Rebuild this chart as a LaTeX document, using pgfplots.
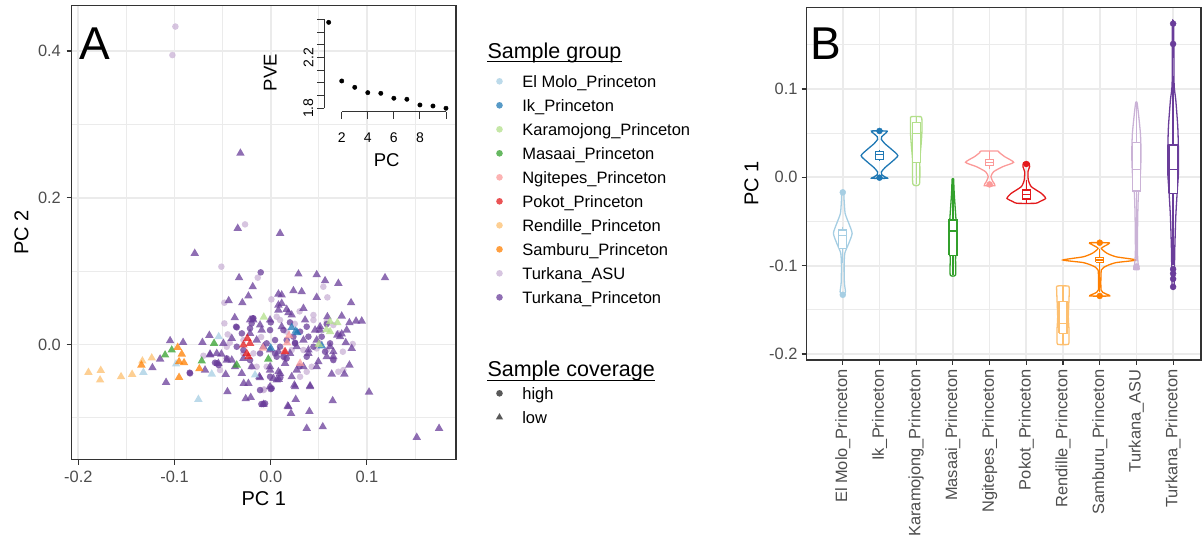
\documentclass[border=0pt]{standalone}
\usepackage{fontspec}
\setmainfont{Liberation Sans}
\usepackage{pgfplots}
\usepackage{pgfplotstable}
\pgfplotsset{compat=1.18}
\definecolor{cEM}{HTML}{A6CEE3}
\definecolor{cIk}{HTML}{1F78B4}
\definecolor{cKa}{HTML}{B2DF8A}
\definecolor{cMa}{HTML}{33A02C}
\definecolor{cNg}{HTML}{FB9A99}
\definecolor{cPo}{HTML}{E31A1C}
\definecolor{cRe}{HTML}{FDBF6F}
\definecolor{cSa}{HTML}{FF7F00}
\definecolor{cTA}{HTML}{CAB2D6}
\definecolor{cTP}{HTML}{6A3D9A}
\definecolor{gridc}{HTML}{EBEBEB}
\definecolor{framec}{HTML}{333333}
\definecolor{tickc}{HTML}{4D4D4D}
\newcommand{\fsz}[1]{\fontsize{#1}{#1}\selectfont}
\pgfplotsset{
  ggbw/.style={
    scale only axis,
    axis line style={draw=framec, line width=1.1pt},
    tick style={draw=framec, line width=1.1pt},
    major tick length=5pt, minor tick length=0pt,
    tick align=outside, tick pos=left,
    major grid style={draw=gridc, line width=1.7pt},
    minor grid style={draw=gridc, line width=0.85pt},
    every tick label/.append style={font=\fsz{16.4}, text=tickc, inner sep=0pt},
    label style={font=\fsz{20}},
  },
  pt/.style={only marks, mark=*, mark size=3.3pt, forget plot, color=#1, mark options={fill=#1, draw=#1, fill opacity=0.75, draw opacity=0}},
  tr/.style={only marks, mark=triangle*, mark size=4.9pt, forget plot, color=#1, mark options={fill=#1, draw=#1, fill opacity=0.75, draw opacity=0}},
  lgc/.style={only marks, mark=*, mark size=3.3pt, mark options={fill=#1, draw=#1, fill opacity=0.75, draw opacity=0}},
  vio/.style={draw=#1, line width=1.3pt, smooth, tension=0.35},
  bxf/.style={draw=#1, fill=white, line width=1.3pt},
  bl/.style={draw=#1, line width=1.3pt},
  ol/.style={only marks, mark=*, mark size=3pt, color=#1},
}
% violin outlines: w = offset from category centre, y = PC 1
\pgfplotstableread{
w y
0.030 -0.0170
0.036 -0.0257
0.064 -0.0408
0.164 -0.0521
0.255 -0.0634
0.164 -0.0747
0.055 -0.0860
0.036 -0.1011
0.045 -0.1200
0.073 -0.1294
0.036 -0.1328
-0.036 -0.1328
-0.073 -0.1294
-0.045 -0.1200
-0.036 -0.1011
-0.055 -0.0860
-0.164 -0.0747
-0.255 -0.0634
-0.164 -0.0521
-0.064 -0.0408
-0.036 -0.0257
-0.030 -0.0170
0.030 -0.0170
}\vA
\pgfplotstableread{
w y
0.22 0.0525
0.17 0.0500
0.06 0.0460
0.05 0.0430
0.15 0.0380
0.32 0.0320
0.50 0.0245
0.32 0.0170
0.15 0.0110
0.05 0.0060
0.06 0.0030
0.17 0.0000
0.22 -0.0011
-0.22 -0.0011
-0.17 0.0000
-0.06 0.0030
-0.05 0.0060
-0.15 0.0110
-0.32 0.0170
-0.50 0.0245
-0.32 0.0320
-0.15 0.0380
-0.05 0.0430
-0.06 0.0460
-0.17 0.0500
-0.22 0.0525
0.22 0.0525
}\vB
\pgfplotstableread{
w y
0.130 0.0687
0.155 0.0660
0.155 0.0500
0.130 0.0350
0.100 0.0200
0.090 -0.0075
-0.090 -0.0075
-0.100 0.0200
-0.130 0.0350
-0.155 0.0500
-0.155 0.0660
-0.130 0.0687
0.130 0.0687
}\vC
\pgfplotstableread{
w y
0.020 -0.0019
0.036 -0.0180
0.073 -0.0408
0.100 -0.0596
0.082 -0.0785
0.073 -0.0936
0.073 -0.1106
-0.073 -0.1106
-0.073 -0.0936
-0.082 -0.0785
-0.100 -0.0596
-0.073 -0.0408
-0.036 -0.0180
-0.020 -0.0019
0.020 -0.0019
}\vD
\pgfplotstableread{
w y
0.230 0.0298
0.270 0.0279
0.410 0.0234
0.655 0.0170
0.360 0.0121
0.110 0.0064
0.036 0.0008
0.090 -0.0049
0.145 -0.0094
-0.145 -0.0094
-0.090 -0.0049
-0.036 0.0008
-0.110 0.0064
-0.360 0.0121
-0.655 0.0170
-0.410 0.0234
-0.270 0.0279
-0.230 0.0298
0.230 0.0298
}\vE
\pgfplotstableread{
w y
0.073 0.0166
0.091 0.0121
0.045 0.0064
0.055 -0.0030
0.136 -0.0106
0.409 -0.0181
0.527 -0.0238
0.364 -0.0275
0.255 -0.0294
-0.255 -0.0294
-0.364 -0.0275
-0.527 -0.0238
-0.409 -0.0181
-0.136 -0.0106
-0.055 -0.0030
-0.045 0.0064
-0.091 0.0121
-0.073 0.0166
0.073 0.0166
}\vF
\pgfplotstableread{
w y
0.155 -0.1230
0.173 -0.1275
0.145 -0.1577
0.164 -0.1728
0.164 -0.1842
0.145 -0.1891
-0.145 -0.1891
-0.164 -0.1842
-0.164 -0.1728
-0.145 -0.1577
-0.173 -0.1275
-0.155 -0.1230
0.155 -0.1230
}\vG
\pgfplotstableread{
w y
0.273 -0.0740
0.227 -0.0758
0.045 -0.0804
0.200 -0.0860
0.450 -0.0900
1.000 -0.0936
0.450 -0.0965
0.200 -0.1000
0.045 -0.1049
0.036 -0.1275
0.136 -0.1313
0.273 -0.1343
-0.273 -0.1343
-0.136 -0.1313
-0.036 -0.1275
-0.045 -0.1049
-0.200 -0.1000
-0.450 -0.0965
-1.000 -0.0936
-0.450 -0.0900
-0.200 -0.0860
-0.045 -0.0804
-0.227 -0.0758
-0.273 -0.0740
0.273 -0.0740
}\vH
\pgfplotstableread{
w y
0.018 0.0849
0.055 0.0725
0.109 0.0498
0.127 0.0272
0.109 0.0045
0.055 -0.0181
0.036 -0.0445
0.027 -0.0823
0.045 -0.0974
0.073 -0.1042
-0.073 -0.1042
-0.045 -0.0974
-0.027 -0.0823
-0.036 -0.0445
-0.055 -0.0181
-0.109 0.0045
-0.127 0.0272
-0.109 0.0498
-0.055 0.0725
-0.018 0.0849
0.018 0.0849
}\vI
\pgfplotstableread{
w y
0.018 0.1751
0.027 0.1064
0.073 0.0875
0.127 0.0574
0.145 0.0309
0.145 0.0045
0.109 -0.0181
0.073 -0.0445
0.045 -0.0823
0.027 -0.1238
-0.027 -0.1238
-0.045 -0.0823
-0.073 -0.0445
-0.109 -0.0181
-0.145 0.0045
-0.145 0.0309
-0.127 0.0574
-0.073 0.0875
-0.027 0.1064
-0.018 0.1751
0.018 0.1751
}\vJ
\begin{document}
\begin{tikzpicture}
\path[use as bounding box] (0pt,0pt) rectangle (1203pt,540pt);
% ---------------- Panel A ----------------
\begin{axis}[ggbw, at={(71.7pt,80.3pt)}, anchor=south west,
  width=384.3pt, height=454.2pt,
  xmin=-0.2069, xmax=0.1926, ymin=-0.1572, ymax=0.4620,
  xtick={-0.2,-0.1,0,0.1}, xticklabels={-0.2,-0.1,0.0,0.1},
  ytick={0,0.2,0.4}, yticklabels={0.0,0.2,0.4},
  minor xtick={-0.15,-0.05,0.05,0.15}, minor ytick={-0.1,0.1,0.3},
  xmajorgrids, ymajorgrids, xminorgrids, yminorgrids,
  xticklabel style={anchor=base, yshift=-17.8pt},
  yticklabel style={anchor=east, xshift=-5.7pt},
  xlabel={PC 1}, ylabel={PC 2},
  xlabel style={at={(axis description cs:0.5,-0.1019)}, anchor=base},
  ylabel style={at={(axis description cs:-0.1129,0.5)}, anchor=base},
  legend image code/.code={\draw[#1] plot coordinates {(0pt,0pt)};},
  legend cell align=left,
  legend style={at={(axis description cs:1.1037,0.8507)}, anchor=north west,
    draw=none, fill=none, inner sep=0pt, outer sep=0pt,
    font=\fsz{16.5}, row sep=8pt, column sep=19.2pt,
    nodes={inner sep=0pt, text height=14pt, text depth=2pt}},
]
% Turkana_ASU (high)
\addplot[pt=cTA] coordinates {(-0.0991,0.4333) (-0.1022,0.3944) (-0.0267,0.1636) (-0.0513,0.1059) (-0.0135,0.0909) (0.0007,0.0614) (-0.0482,0.0568) (-0.0482,0.0286) (-0.0447,0.0136) (-0.0426,0.0023) (-0.0700,-0.0155) (-0.0069,-0.0614) (-0.0284,-0.0123) (-0.0198,-0.0305) (0.0547,0.0786) (0.0589,0.0641) (0.0444,0.0400) (0.0651,0.0264) (0.0852,0.0005) (0.0755,-0.0350) (0.0703,-0.0373) (0.0340,-0.0077) (0.0218,-0.0077) (0.0478,-0.0055) (0.0426,-0.0305) (-0.0076,-0.0623) (0.0097,0.0332) (0.0166,0.0173) (0.0062,0.0377) (0.0444,0.0332) (0.0582,0.0309) (0.0374,-0.0373) (0.0305,-0.0441) (-0.0042,-0.0305) (-0.0146,-0.0305) (-0.0007,-0.0577) (-0.0284,0.0059) (-0.0457,-0.0032) (-0.0527,-0.0350) (0.0132,-0.0123) (0.0513,0.0014) (0.0703,0.0150) (0.0582,-0.0077) (-0.0180,-0.0123) (0.0250,0.0280) (0.0150,-0.0200) (-0.0100,0.0100) (0.0500,0.0200) (0.0650,-0.0200) (0.0300,0.0450) (0.0750,-0.0100)};
% Turkana_Princeton (high)
\addplot[pt=cTP] coordinates {(-0.0104,0.0982) (-0.0360,0.0241) (-0.0842,-0.0386) (-0.0097,-0.0814) (0.0000,-0.0609) (-0.0579,-0.0250) (-0.0541,-0.0282) (-0.0198,0.0286) (-0.0215,0.0218) (-0.0187,0.0355) (0.0582,0.0277) (0.0392,0.0105) (0.0565,-0.0100) (-0.0076,-0.0814) (0.0010,-0.0600) (0.0253,0.0023) (0.0132,-0.0168) (0.0045,-0.0123) (0.0305,0.0173) (-0.0180,0.0355) (-0.0353,0.0232) (-0.0007,0.0195) (0.0132,0.0195) (0.0236,0.0105) (0.0045,0.0059) (-0.0042,0.0014) (-0.0111,-0.0123) (0.0062,-0.0168) (0.0166,-0.0191) (0.0253,0.0014) (0.0374,0.0241) (0.0444,-0.0032) (0.0530,0.0105) (0.0617,0.0014) (0.0651,-0.0214) (-0.0284,-0.0077) (-0.0215,-0.0214) (-0.0353,-0.0032) (-0.0457,-0.0191) (-0.0561,-0.0259) (-0.0839,-0.0395) (-0.0007,-0.0441) (-0.0111,-0.0623) (-0.0059,-0.0805) (0.0166,0.0059) (0.0374,-0.0168) (0.0097,-0.0032) (0.0000,0.0300) (0.0200,0.0300) (-0.0300,0.0150) (0.0300,-0.0300) (0.0100,-0.0450)};
% Turkana_Princeton (low)
\addplot[tr=cTP] coordinates {(-0.1046,0.0050) (-0.0911,0.0027) (-0.1150,-0.0200) (-0.1230,-0.0318) (-0.1088,-0.0518) (-0.0710,0.0027) (-0.0638,0.0123) (-0.0790,0.1241) (-0.0343,0.1582) (0.0097,0.1514) (-0.0315,0.2606) (-0.0329,0.0909) (-0.0187,0.0786) (-0.0232,0.0659) (-0.0295,0.0568) (-0.0437,0.0595) (-0.0374,0.0364) (-0.0468,-0.0409) (-0.0450,-0.0645) (-0.0281,-0.0532) (-0.0260,-0.0741) (-0.0208,-0.0723) (-0.0076,-0.0818) (0.0177,-0.0841) (-0.0631,-0.0132) (-0.0513,-0.0132) (-0.0405,-0.0214) (-0.0118,-0.0441) (0.0028,-0.0464) (0.0080,-0.0373) (0.0288,0.0959) (0.0478,0.0950) (0.0565,0.0868) (0.0703,0.0832) (0.1188,0.0909) (0.0236,0.0732) (0.0322,0.0718) (0.0114,0.0673) (0.0478,0.0641) (0.0835,0.0568) (0.0340,0.0491) (0.0080,0.0536) (0.0166,0.0477) (0.0738,0.0386) (0.0589,0.0377) (0.0818,0.0295) (0.0887,0.0318) (0.0946,0.0318) (0.0693,0.0127) (0.0738,0.0141) (0.0780,0.0023) (0.0842,-0.0055) (0.0651,-0.0168) (0.0818,-0.0282) (0.0634,-0.0405) (0.0766,-0.0405) (0.0409,-0.0564) (0.0246,-0.0555) (0.1022,-0.0650) (0.0644,-0.0768) (0.0260,-0.0750) (0.0184,-0.0850) (0.0211,-0.0941) (0.0402,-0.0914) (0.0374,-0.1145) (0.0541,-0.1123) (0.1518,-0.1268) (0.1750,-0.1145) (-0.0111,-0.0455) (0.0083,-0.0477) (0.0270,-0.0350) (0.0495,-0.0236) (0.0461,0.0195) (0.0218,0.0400) (0.0357,0.0332) (0.0513,0.0241) (0.0114,0.0241) (-0.0007,0.0332) (0.0617,-0.0032) (0.0392,-0.0123) (0.0149,-0.0259) (-0.0007,-0.0305) (0.0080,0.0686) (0.0114,0.0559) (0.0080,0.0468) (0.0184,0.0432) (-0.0180,0.0332) (-0.0111,0.0264) (-0.0215,0.0150) (-0.0146,0.0059) (-0.0076,-0.0032) (-0.0007,-0.0077) (0.0080,-0.0100) (0.0201,-0.0123) (0.0270,-0.0032) (0.0340,0.0059) (0.0392,-0.0077) (0.0478,0.0059) (0.0513,0.0195) (0.0582,-0.0168) (0.0651,-0.0100) (0.0721,0.0105) (0.0790,0.0195) (-0.0284,-0.0191) (-0.0371,-0.0305) (-0.0301,-0.0395) (-0.0198,-0.0305) (-0.0007,-0.0350) (0.0097,-0.0395) (0.0218,-0.0441) (0.0253,-0.0577) (0.0409,-0.0577) (0.0478,-0.0305) (0.0340,-0.0305) (-0.0405,0.0082) (-0.0492,0.0014) (-0.0561,-0.0123) (-0.0457,-0.0214) (-0.0544,-0.0259) (-0.0631,-0.0145) (-0.0683,-0.0350) (-0.0232,-0.0532) (-0.0007,-0.0577) (0.0062,-0.0486) (-0.0215,0.0332) (-0.0094,0.0195)};
% other groups (low)
\addplot[tr=cEM] coordinates {(-0.1324,-0.0382) (-0.0984,-0.0268) (-0.0752,-0.0750) (-0.0613,-0.0405) (-0.0541,0.0105) (-0.0163,-0.0418)};
\addplot[tr=cIk] coordinates {(0.0218,0.0230) (0.0275,0.0160) (0.0530,-0.0020) (0.0000,-0.0050) (0.0260,0.0180)};
\addplot[tr=cKa] coordinates {(-0.0072,0.0372) (0.0617,0.0309) (0.0693,0.0295) (0.0617,0.0173) (0.0500,0.0000) (0.0580,0.0200)};
\addplot[tr=cMa] coordinates {(-0.1098,-0.0145) (-0.1029,-0.0077) (-0.0589,0.0014) (-0.0717,-0.0227) (-0.0353,-0.0282) (-0.0025,-0.0200)};
\addplot[tr=cNg] coordinates {(0.0305,-0.0258) (0.0170,0.0020) (0.0140,-0.0100) (-0.0080,-0.0050) (0.0190,0.0120)};
\addplot[tr=cPo] coordinates {(-0.0243,0.0082) (-0.0215,0.0014) (-0.0249,-0.0123) (-0.0232,-0.0168) (-0.0284,-0.0009) (0.0150,-0.0100)};
\addplot[tr=cRe] coordinates {(-0.1895,-0.0382) (-0.1767,-0.0355) (-0.1774,-0.0486) (-0.1556,-0.0441) (-0.1441,-0.0409) (-0.1334,-0.0227) (-0.1237,-0.0186)};
\addplot[tr=cSa] coordinates {(-0.1344,-0.0282) (-0.0967,-0.0041) (-0.0925,-0.0132) (-0.0953,-0.0236) (-0.0901,-0.0250) (-0.0953,-0.0450) (-0.0742,-0.0332)};
% legend
\addlegendimage{lgc=cEM}\addlegendentry{El Molo\_Princeton}
\addlegendimage{lgc=cIk}\addlegendentry{Ik\_Princeton}
\addlegendimage{lgc=cKa}\addlegendentry{Karamojong\_Princeton}
\addlegendimage{lgc=cMa}\addlegendentry{Masaai\_Princeton}
\addlegendimage{lgc=cNg}\addlegendentry{Ngitepes\_Princeton}
\addlegendimage{lgc=cPo}\addlegendentry{Pokot\_Princeton}
\addlegendimage{lgc=cRe}\addlegendentry{Rendille\_Princeton}
\addlegendimage{lgc=cSa}\addlegendentry{Samburu\_Princeton}
\addlegendimage{lgc=cTA}\addlegendentry{Turkana\_ASU}
\addlegendimage{lgc=cTP}\addlegendentry{Turkana\_Princeton}
\addlegendimage{empty legend}\addlegendentry{}
\addlegendimage{empty legend}\addlegendentry{}
\addlegendimage{empty legend}\addlegendentry{}
\addlegendimage{only marks, mark=*, mark size=3.3pt, mark options={fill=black, draw=black, fill opacity=0.65, draw opacity=0}}\addlegendentry{high}
\addlegendimage{only marks, mark=triangle*, mark size=4.2pt, mark options={fill=black, draw=black, fill opacity=0.65, draw opacity=0}}\addlegendentry{low}
\end{axis}
% ---------------- Inset ----------------
\begin{axis}[at={(324pt,428.3pt)}, anchor=south west, scale only axis,
  width=125.9pt, height=94.8pt, clip=false,
  xmin=0.64, xmax=10.3, ymin=1.773, ymax=2.52,
  axis lines*=left, axis line style={draw=none},
  tick align=outside, major tick length=7pt,
  tick style={draw=framec, line width=0.9pt},
  xtick={2,4,6,8,10}, xticklabels={2,4,6,8,},
  ytick={1.8,1.9,2.0,2.1,2.2,2.3,2.4,2.5}, yticklabels={1.8,,,,2.2,,,},
  every tick label/.append style={font=\fsz{14}, inner sep=0pt},
  xticklabel style={anchor=base, yshift=-23.5pt},
  yticklabel style={anchor=south, xshift=-3.5pt, rotate=90},
  xlabel={PC}, ylabel={PVE},
  label style={font=\fsz{18.5}},
  xlabel style={at={(axis description cs:0.498,-0.573)}, anchor=base},
  ylabel style={at={(axis description cs:-0.376,0.413)}, anchor=base},
]
\draw[framec, line width=0.9pt] (axis cs:0.64,1.8) -- (axis cs:0.64,2.5);
\draw[framec, line width=0.9pt] (axis cs:2,1.773) -- (axis cs:10,1.773);
\addplot[only marks, mark=*, mark size=2.2pt, black] coordinates {(1,2.477) (2,2.015) (3,1.965) (4,1.923) (5,1.918) (6,1.879) (7,1.871) (8,1.826) (9,1.818) (10,1.800)};
\end{axis}
% ---------------- Panel B ----------------
\begin{axis}[ggbw, at={(806.7pt,180pt)}, anchor=south west,
  width=394.3pt, height=352.7pt,
  xmin=0.017, xmax=10.76, ymin=-0.2068, ymax=0.1925,
  xtick={1,2,3,4,5,6,7,8,9,10},
  xticklabels={El Molo\_Princeton,Ik\_Princeton,Karamojong\_Princeton,Masaai\_Princeton,Ngitepes\_Princeton,Pokot\_Princeton,Rendille\_Princeton,Samburu\_Princeton,Turkana\_ASU,Turkana\_Princeton},
  ytick={-0.2,-0.1,0,0.1}, yticklabels={-0.2,-0.1,0.0,0.1},
  minor ytick={-0.15,-0.05,0.05,0.15},
  xmajorgrids, ymajorgrids, yminorgrids,
  xticklabel style={yshift=-4.5pt, rotate=90, anchor=east},
  yticklabel style={anchor=east, xshift=-4pt},
  ylabel={PC 1},
  ylabel style={at={(axis description cs:-0.1227,0.5)}, anchor=base},
]
\addplot[vio=cEM] table[x expr=\thisrow{w}+1, y=y] {\vA};
\addplot[vio=cIk] table[x expr=\thisrow{w}+2, y=y] {\vB};
\addplot[vio=cKa] table[x expr=\thisrow{w}+3, y=y] {\vC};
\addplot[vio=cMa] table[x expr=\thisrow{w}+4, y=y] {\vD};
\addplot[vio=cNg] table[x expr=\thisrow{w}+5, y=y] {\vE};
\addplot[vio=cPo] table[x expr=\thisrow{w}+6, y=y] {\vF};
\addplot[vio=cRe] table[x expr=\thisrow{w}+7, y=y] {\vG};
\addplot[vio=cSa] table[x expr=\thisrow{w}+8, y=y] {\vH};
\addplot[vio=cTA] table[x expr=\thisrow{w}+9, y=y] {\vI};
\addplot[vio=cTP] table[x expr=\thisrow{w}+10, y=y] {\vJ};
% box plots: whisker, box (quartiles), median
\addplot[bl=cEM] coordinates {(1,-0.0558) (1,-0.0974)};
\addplot[bxf=cEM] coordinates {(0.89,-0.0804) (1.11,-0.0804) (1.11,-0.0596) (0.89,-0.0596) (0.89,-0.0804)};
\addplot[bl=cEM] coordinates {(0.89,-0.0660) (1.11,-0.0660)};
\addplot[bl=cIk] coordinates {(2,0.0310) (2,0.0190)};
\addplot[bxf=cIk] coordinates {(1.89,0.0204) (2.11,0.0204) (2.11,0.0291) (1.89,0.0291) (1.89,0.0204)};
\addplot[bl=cIk] coordinates {(1.89,0.0260) (2.11,0.0260)};
\addplot[bl=cKa] coordinates {(3,0.0687) (3,-0.0075)};
\addplot[bxf=cKa] coordinates {(2.89,0.0166) (3.11,0.0166) (3.11,0.0619) (2.89,0.0619) (2.89,0.0166)};
\addplot[bl=cKa] coordinates {(2.89,0.0498) (3.11,0.0498)};
\addplot[bl=cMa] coordinates {(4,-0.0019) (4,-0.1106)};
\addplot[bxf=cMa] coordinates {(3.89,-0.0883) (4.11,-0.0883) (4.11,-0.0483) (3.89,-0.0483) (3.89,-0.0883)};
\addplot[bl=cMa] coordinates {(3.89,-0.0608) (4.11,-0.0608)};
\addplot[bl=cNg] coordinates {(5,0.0298) (5,0.0090)};
\addplot[bxf=cNg] coordinates {(4.89,0.0132) (5.11,0.0132) (5.11,0.0204) (4.89,0.0204) (4.89,0.0132)};
\addplot[bl=cNg] coordinates {(4.89,0.0170) (5.11,0.0170)};
\addplot[bl=cPo] coordinates {(6,-0.0030) (6,-0.0294)};
\addplot[bxf=cPo] coordinates {(5.89,-0.0245) (6.11,-0.0245) (6.11,-0.0143) (5.89,-0.0143) (5.89,-0.0245)};
\addplot[bl=cPo] coordinates {(5.89,-0.0192) (6.11,-0.0192)};
\addplot[bl=cRe] coordinates {(7,-0.1230) (7,-0.1891)};
\addplot[bxf=cRe] coordinates {(6.89,-0.1766) (7.11,-0.1766) (7.11,-0.1408) (6.89,-0.1408) (6.89,-0.1766)};
\addplot[bl=cRe] coordinates {(6.89,-0.1653) (7.11,-0.1653)};
\addplot[bl=cSa] coordinates {(8,-0.0810) (8,-0.1300)};
\addplot[bxf=cSa] coordinates {(7.89,-0.0962) (8.11,-0.0962) (8.11,-0.0909) (7.89,-0.0909) (7.89,-0.0962)};
\addplot[bl=cSa] coordinates {(7.89,-0.0936) (8.11,-0.0936)};
\addplot[bl=cTA] coordinates {(9,0.0849) (9,-0.0950)};
\addplot[bxf=cTA] coordinates {(8.89,-0.0155) (9.11,-0.0155) (9.11,0.0396) (8.89,0.0396) (8.89,-0.0155)};
\addplot[bl=cTA] coordinates {(8.89,0.0091) (9.11,0.0091)};
\addplot[bl=cTP] coordinates {(10,0.1150) (10,-0.0990)};
\addplot[bxf=cTP] coordinates {(9.89,-0.0181) (10.11,-0.0181) (10.11,0.0366) (9.89,0.0366) (9.89,-0.0181)};
\addplot[bl=cTP] coordinates {(9.89,0.0091) (10.11,0.0091)};
% outliers
\addplot[ol=cEM] coordinates {(1,-0.017) (1,-0.133)};
\addplot[ol=cIk] coordinates {(2,0.0525) (2,-0.0004)};
\addplot[ol=cNg] coordinates {(5,-0.008)};
\addplot[ol=cPo] coordinates {(6,0.0151)};
\addplot[ol=cSa] coordinates {(8,-0.074) (8,-0.1343)};
\addplot[ol=cTA] coordinates {(9,-0.101)};
\addplot[ol=cTP] coordinates {(10,0.174) (10,0.151) (10,-0.104) (10,-0.109) (10,-0.115) (10,-0.124)};
\end{axis}
% ---------------- Annotations ----------------
\node[anchor=base west, inner sep=0pt, font=\fsz{46}] at (79pt,480.8pt) {A};
\node[anchor=base west, inner sep=0pt, font=\fsz{46}] at (810.5pt,480.7pt) {B};
\node (tg) [anchor=base west, inner sep=0pt, font=\fsz{21.5}] at (487.3pt,481.7pt) {Sample group};
\draw[line width=1.1pt] ([yshift=-3.5pt]tg.base west) -- ([yshift=-3.5pt]tg.base east);
\node (tc) [anchor=base west, inner sep=0pt, font=\fsz{21.5}] at (487.3pt,163.3pt) {Sample coverage};
\draw[line width=1.1pt] ([yshift=-3.5pt]tc.base west) -- ([yshift=-3.5pt]tc.base east);
\end{tikzpicture}
\end{document}
